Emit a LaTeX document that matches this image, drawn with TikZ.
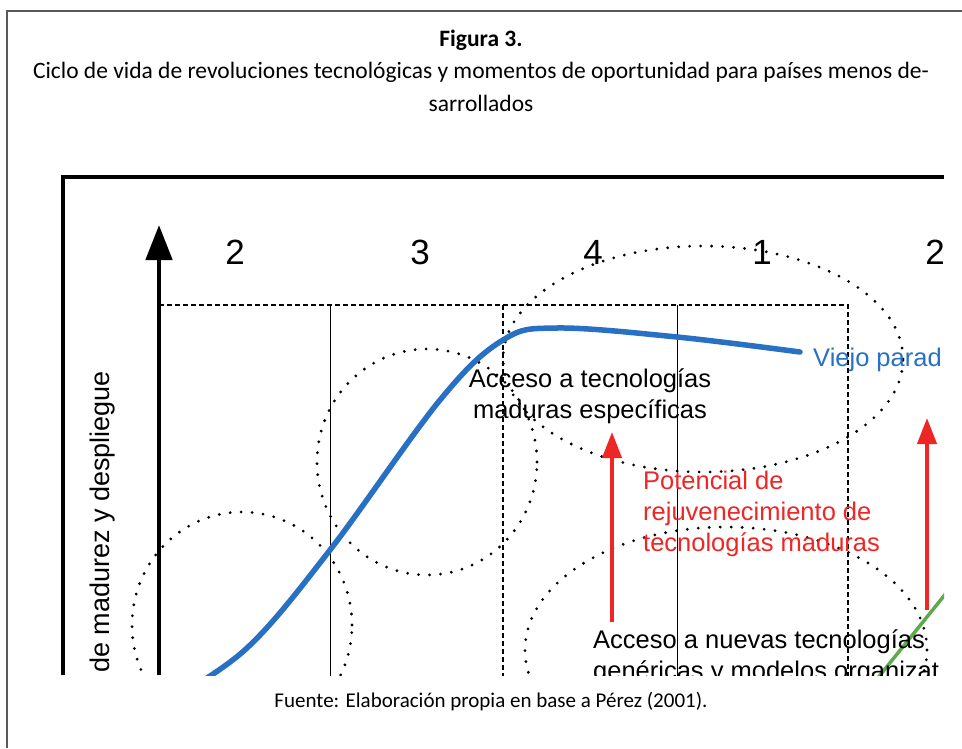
\documentclass[tikz,border=0pt]{standalone}
\usepackage{fontspec}
\setmainfont{Carlito}
\newfontfamily\chartfont{Liberation Sans}
\usetikzlibrary{arrows.meta}
\definecolor{curveblue}{RGB}{40,112,195}
\definecolor{arrowred}{RGB}{238,38,38}
\definecolor{newgreen}{RGB}{95,170,80}
\definecolor{framegray}{RGB}{90,90,90}

\begin{document}
\begin{tikzpicture}[x=1pt,y=-1pt]
\tikzstyle{dots}=[line width=3.1pt, line cap=round, dash pattern=on 0pt off 11pt]
\tikzstyle{gridline}=[line width=1pt]
\tikzstyle{griddash}=[line width=1.1pt, dash pattern=on 5pt off 3pt]
\tikzstyle{phase}=[font=\chartfont\fontsize{35}{35}\selectfont, inner sep=0pt]
\tikzstyle{label}=[font=\chartfont\fontsize{25.5}{31}\selectfont, inner sep=0pt]
\tikzstyle{redarrow}=[arrowred, line width=4pt, -{Triangle[width=19pt,length=26pt]}]
\useasboundingbox (0,0) rectangle (962,748);

\draw[framegray, line width=1.5pt] (7,748) -- (7,11) -- (962,11);

\node (fig) at (481,40) {\fontsize{23.5}{28}\selectfont\bfseries Figura 3.};
\node (title) at (481,72) {\fontsize{23.5}{28}\selectfont Ciclo de vida de revoluciones tecnológicas y momentos de oportunidad para países menos de-};
\node (title2) at (481,103) {\fontsize{23.5}{28}\selectfont sarrollados};

\begin{scope}
\clip (62,177) rectangle (944,675);

\draw[griddash] (159,305) -- (848,305) -- (848,700);
\draw[gridline] (330,305) -- (330,700);
\draw[griddash] (503,305) -- (503,700);
\draw[gridline] (677,305) -- (677,700);

\node[phase] (p2) at (235,252) {2};
\node[phase] (p3) at (420,252) {3};
\node[phase] (p4) at (593,252) {4};
\node[phase] (p1) at (762,252) {1};
\node[phase] (p2b) at (935,252) {2};

% ventanas de oportunidad
\draw[dots] (242,625) ellipse [x radius=110pt, y radius=113pt];
\draw[dots] (427,462) ellipse [x radius=110pt, y radius=113pt];
\draw[dots] (703,359) ellipse [x radius=200pt, y radius=113pt];
\draw[dots] (726,650) ellipse [x radius=201pt, y radius=123pt];

\draw[curveblue, line width=5.5pt, line cap=round] plot[smooth, tension=0.6] coordinates {(170,700) (247,648) (330,550) (440,400) (503,340) (557,328) (677,337) (800,352)};
\node[label, anchor=west, text=curveblue] (viejo) at (813,360) {Viejo parad};

\draw[newgreen, line width=3.5pt] (960,576) -- (860,700);

\node[label, align=center] (madura) at (590,396) {Acceso a tecnologías\\maduras específicas};
\node[label, align=left, anchor=north west, text=arrowred] (potencial) at (643,471) {Potencial de\\rejuvenecimiento de\\tecnologías maduras};
\node[label, align=left, anchor=north west] (nuevas) at (593,630) {Acceso a nuevas tecnologías\\genéricas y modelos organizat};

\coordinate (r1b) at (612,622);
\coordinate (r1t) at (612,432);
\coordinate (r2b) at (927,610);
\coordinate (r2t) at (927,418);
\draw[redarrow] (r1b) -- (r1t);
\draw[redarrow] (r2b) -- (r2t);

\node[label, font=\chartfont\fontsize{27}{31}\selectfont, rotate=90, anchor=west] (eje) at (103,673) {de madurez y despliegue};
\coordinate (O) at (159,675);
\coordinate (Ytop) at (159,225);
\draw[line width=4.8pt, -{Triangle[width=26pt,length=35pt]}] (O) -- (Ytop);
\end{scope}

\draw[line width=4pt] (63,675) -- (63,177) -- (944,177);

\node (source) at (491,702) {\fontsize{21}{25}\selectfont Fuente: Elaboración propia en base a Pérez (2001).};
\end{tikzpicture}
\end{document}
